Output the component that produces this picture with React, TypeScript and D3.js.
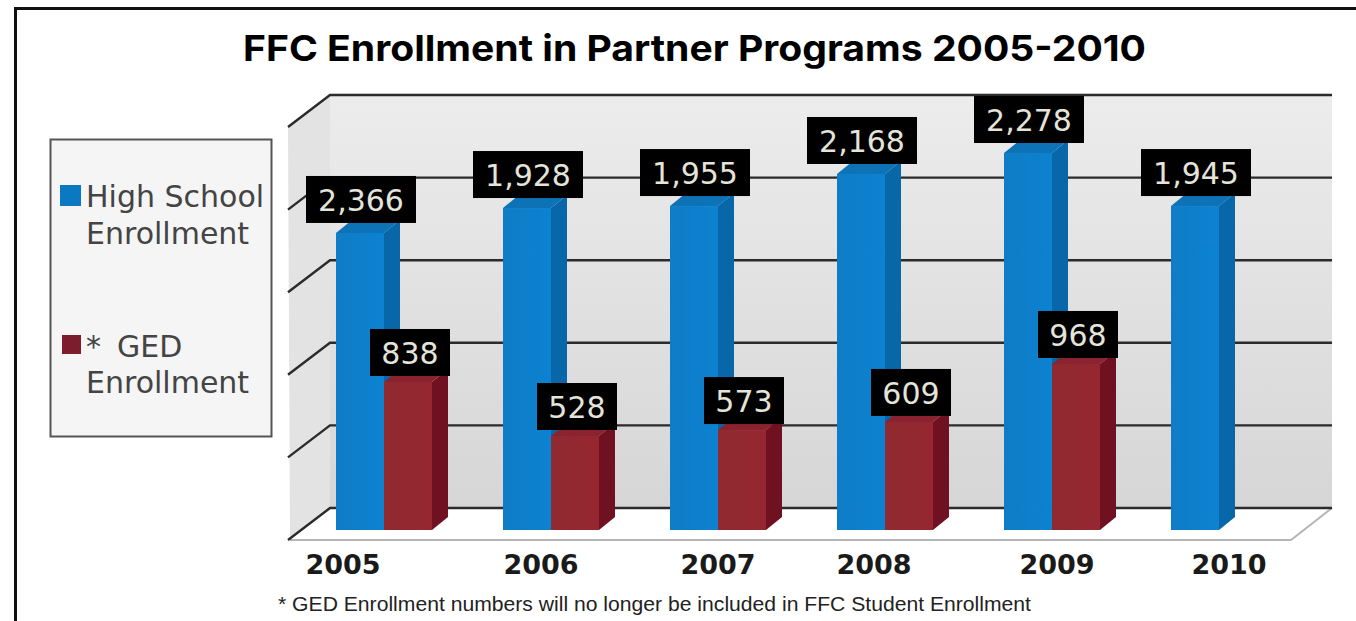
import React from "react";
import * as d3 from "d3";

const years = ["2005", "2006", "2007", "2008", "2009", "2010"];
// Bar heights as drawn in the picture (the 2005 bar is drawn shorter than its label says)
const highSchoolBars = [1798, 1949, 1961, 2155, 2282, 1961];
const gedBars = [896, 569, 605, 654, 1005, null];
const highSchoolLabels = ["2,366", "1,928", "1,955", "2,168", "2,278", "1,945"];
const gedLabels = ["838", "528", "573", "609", "968", null];
const gridValues = [0, 500, 1000, 1500, 2000, 2500];
const yearLabelShift = [7, 38, 48, 37, 53, 58];

const W = 1356, H = 621;
const dx = 16, dy = 13;
const barW = 48;
const wallL = 330, wallR = 1332, wallTop = 95, wallBottom = 508;
const floorL = 290, floorR = 1291, floorY = 540;
const sideL = 288, sideDy = 32;
const frontBase = 530;

const x = d3.scalePoint<string>().domain(years).range([336, 1171]);
const yBack = d3.scaleLinear().domain([0, 2500]).range([wallBottom, wallTop]);
const yFront = d3.scaleLinear().domain([0, 2500]).range([frontBase, frontBase - (wallBottom - wallTop)]);

const poly = (pts: [number, number][]) => d3.line()(pts)! + "Z";

function Bar({ x0, value, fill, side, top }: { x0: number; value: number; fill: string; side: string; top: string }) {
  const yT = yFront(value);
  const x1 = x0 + barW;
  return (
    <g>
      <path d={poly([[x1, yT], [x1 + dx, yT - dy], [x1 + dx, frontBase - dy], [x1, frontBase]])} fill={side} />
      <path d={poly([[x0, yT], [x0 + dx, yT - dy], [x1 + dx, yT - dy], [x1, yT]])} fill={top} />
      <rect x={x0} y={yT} width={barW} height={frontBase - yT} fill={fill} />
    </g>
  );
}

function Tag({ cx, bottom, w, text }: { cx: number; bottom: number; w: number; text: string }) {
  const h = 47;
  return (
    <g>
      <rect x={cx - w / 2} y={bottom - h} width={w} height={h} fill="#000" />
      <text x={cx} y={bottom - 12} textAnchor="middle" fontFamily="DejaVu Sans" fontSize={30} fill="#e4e4da">{text}</text>
    </g>
  );
}

const legendText = { fontFamily: "DejaVu Sans", fontSize: 30, fill: "#444" };

export default function App() {
  return (
    <svg width={W} height={H} viewBox={`0 0 ${W} ${H}`} style={{ position: "absolute", left: 0, top: 0, display: "block", background: "#fff" }}>
      <defs>
        <linearGradient id="wall" x1="0" y1="0" x2="0" y2="1">
          <stop offset="0" stopColor="#ececec" />
          <stop offset="0.45" stopColor="#e2e2e2" />
          <stop offset="1" stopColor="#d6d6d6" />
        </linearGradient>
        <linearGradient id="blueF" x1="0" y1="0" x2="1" y2="0">
          <stop offset="0" stopColor="#0f7cc6" />
          <stop offset="1" stopColor="#0c82d0" />
        </linearGradient>
        <linearGradient id="redF" x1="0" y1="0" x2="1" y2="0">
          <stop offset="0" stopColor="#8f2a30" />
          <stop offset="1" stopColor="#96262f" />
        </linearGradient>
      </defs>

      {/* outer frame */}
      <path d={`M15.5 ${H} V8.5 H${W}`} fill="none" stroke="#111" strokeWidth={3} />

      {/* title */}
      <text x={694.5} y={61} textAnchor="middle" fontFamily="Inter, Open Sans" fontWeight={700} fontSize={36} textLength={903} lengthAdjust="spacingAndGlyphs" fill="#000">
        FFC Enrollment in Partner Programs 2005-2010
      </text>

      {/* walls and floor */}
      <path d={poly([[sideL, wallTop + sideDy], [wallL, wallTop], [wallL, wallBottom], [floorL, floorY]])} fill="#e3e3e3" />
      <rect x={wallL} y={wallTop} width={wallR - wallL} height={wallBottom - wallTop} fill="url(#wall)" />
      <path d={poly([[floorL, floorY], [wallL, wallBottom], [wallR, wallBottom], [floorR, floorY]])} fill="#fff" />
      <path d={`M${floorL} ${floorY} H${floorR} L${wallR} ${wallBottom}`} fill="none" stroke="#b5b5b5" strokeWidth={2} />

      {/* grid */}
      {gridValues.map((v) => {
        const yy = yBack(v);
        return (
          <path key={v} d={`M${sideL} ${yy + sideDy} L${wallL} ${yy} H${wallR}`} fill="none" stroke="#2b2b2b" strokeWidth={2.4} />
        );
      })}

      {/* bars */}
      {years.map((yr, i) => {
        const x0 = x(yr)!;
        const g = gedBars[i];
        return (
          <g key={yr}>
            <Bar x0={x0} value={highSchoolBars[i]} fill="url(#blueF)" side="#0767a8" top="#0d72b6" />
            {g !== null && <Bar x0={x0 + barW} value={g} fill="url(#redF)" side="#6f1120" top="#8a2230" />}
          </g>
        );
      })}

      {/* value tags */}
      {years.map((yr, i) => {
        const x0 = x(yr)!;
        const g = gedBars[i];
        const gl = gedLabels[i];
        return (
          <g key={yr}>
            <Tag cx={x0 + 25} bottom={yFront(highSchoolBars[i]) - 10} w={110} text={highSchoolLabels[i]} />
            {g !== null && gl !== null && <Tag cx={x0 + barW + 26} bottom={yFront(g) - 6} w={80} text={gl} />}
          </g>
        );
      })}

      {/* year labels */}
      {years.map((yr, i) => (
        <text key={yr} x={x(yr)! + yearLabelShift[i]} y={574} textAnchor="middle" fontFamily="DejaVu Sans" fontWeight={700} fontSize={27} fill="#1a1a1a">{yr}</text>
      ))}

      {/* legend */}
      <rect x={50.5} y={139.5} width={221} height={297} fill="#f5f5f5" stroke="#555" strokeWidth={2} />
      <rect x={60} y={185} width={21} height={21} fill="#0b78c2" />
      <text {...legendText} x={86} y={207}>High School</text>
      <text {...legendText} x={86} y={244}>Enrollment</text>
      <rect x={62} y={335} width={19} height={19} fill="#7d1c2c" />
      <text {...legendText} x={86} y={357}>*<tspan dx={16}>GED</tspan></text>
      <text {...legendText} x={86} y={393}>Enrollment</text>

      {/* footnote */}
      <text x={278} y={611} fontFamily="Liberation Sans" fontSize={20} textLength={753} lengthAdjust="spacingAndGlyphs" fill="#222">
        * GED Enrollment numbers will no longer be included in FFC Student Enrollment
      </text>
    </svg>
  );
}
